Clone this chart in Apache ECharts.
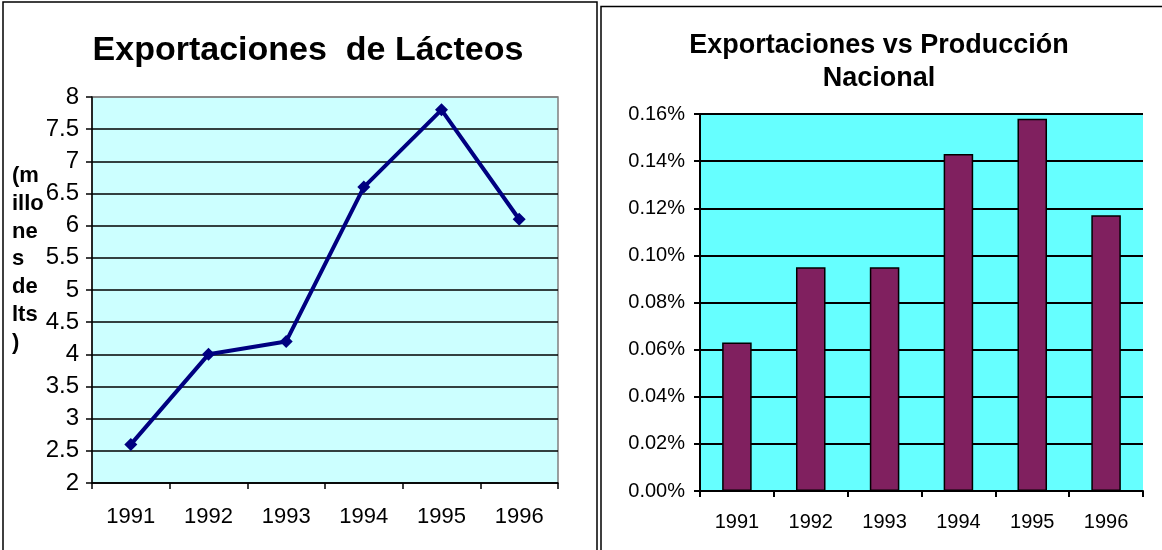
<!DOCTYPE html>
<html>
<head>
<meta charset="utf-8">
<script src="https://cdn.jsdelivr.net/npm/echarts@6/dist/echarts.min.js"></script>
<style>
html, body { margin: 0; padding: 0; background: #fff; }
#chart { width: 1162px; height: 550px; }
</style>
</head>
<body>
<div id="chart"></div>
<script>
// data
const years = ['1991', '1992', '1993', '1994', '1995', '1996'];
const exportaciones = [2.6, 4.0, 4.2, 6.6, 7.8, 6.1];          // millones de lts
const porcentajeProduccion = [0.063, 0.095, 0.095, 0.143, 0.158, 0.117]; // %
const leftTitle = 'Exportaciones  de Lácteos';
const rightTitle = 'Exportaciones vs Producción\nNacional';
const leftAxisName = '(m\nillo\nne\ns\nde\nlts\n)';

const FONT = 'Liberation Sans, Arial, sans-serif';

document.addEventListener('DOMContentLoaded', () => {
    const chart = echarts.init(document.getElementById('chart'));

    // top split line of the left plot is grey, the rest black
    const leftSplitColors = Array(12).fill('#000').concat(['#808080']);

    chart.setOption({
        animation: false,
        backgroundColor: '#fff',
        title: [
            {
                text: leftTitle, left: 308, top: 34, padding: 0, textAlign: 'center',
                textStyle: { fontFamily: FONT, fontSize: 34, fontWeight: 'bold', color: '#000', lineHeight: 34 }
            },
            {
                text: rightTitle, left: 879, top: 29, padding: 0, textAlign: 'center',
                textStyle: { fontFamily: FONT, fontSize: 27, fontWeight: 'bold', color: '#000', lineHeight: 33 }
            },
            {
                text: leftAxisName, left: 12, top: 162, padding: 0,
                textStyle: { fontFamily: FONT, fontSize: 22, fontWeight: 'bold', color: '#000', lineHeight: 27.8 }
            }
        ],
        graphic: [
            { type: 'rect', silent: true, shape: { x: 3, y: 2, width: 594, height: 600 },
              style: { fill: 'none', stroke: '#000', lineWidth: 1.5 } },
            { type: 'rect', silent: true, shape: { x: 601, y: 6.5, width: 600, height: 600 },
              style: { fill: 'none', stroke: '#000', lineWidth: 1.5 } }
        ],
        grid: [
            { left: 92, top: 97, width: 466, height: 386, show: true,
              backgroundColor: '#ccffff', borderColor: '#808080', borderWidth: 1.5 },
            { left: 700, top: 114, width: 443, height: 377, show: true,
              backgroundColor: '#66ffff', borderWidth: 0 }
        ],
        xAxis: [
            {
                type: 'category', gridIndex: 0, data: years, boundaryGap: true,
                axisLine: { lineStyle: { color: '#000', width: 1.5 } },
                axisTick: { show: true, length: 6, lineStyle: { color: '#000', width: 1.5 } },
                axisLabel: { fontFamily: FONT, fontSize: 22, color: '#000', margin: 23 }
            },
            {
                type: 'category', gridIndex: 1, data: years, boundaryGap: true,
                axisLine: { lineStyle: { color: '#000', width: 2 } },
                axisTick: { show: true, length: 6, lineStyle: { color: '#000', width: 2 } },
                axisLabel: { fontFamily: FONT, fontSize: 20, color: '#000', margin: 21 }
            }
        ],
        yAxis: [
            {
                type: 'value', gridIndex: 0, min: 2, max: 8, interval: 0.5,
                axisLine: { show: true, lineStyle: { color: '#000', width: 1.5 } },
                axisTick: { show: true, length: 6, lineStyle: { color: '#000', width: 1.5 } },
                axisLabel: { fontFamily: FONT, fontSize: 24, color: '#000', margin: 13 },
                splitLine: { show: true, lineStyle: { color: leftSplitColors, width: 1.5 } }
            },
            {
                type: 'value', gridIndex: 1, min: 0, max: 0.16, interval: 0.02,
                axisLine: { show: true, lineStyle: { color: '#000', width: 2 } },
                axisTick: { show: true, length: 6, lineStyle: { color: '#000', width: 2 } },
                axisLabel: {
                    fontFamily: FONT, fontSize: 20, color: '#000', margin: 15,
                    formatter: v => v.toFixed(2) + '%'
                },
                splitLine: { show: true, lineStyle: { color: '#000', width: 2 } }
            }
        ],
        series: [
            {
                name: 'Exportaciones', type: 'line', xAxisIndex: 0, yAxisIndex: 0,
                data: exportaciones,
                symbol: 'diamond', symbolSize: 13,
                lineStyle: { color: '#000080', width: 4 },
                itemStyle: { color: '#000080' }
            },
            {
                name: 'Exportaciones vs Producción', type: 'bar', xAxisIndex: 1, yAxisIndex: 1,
                data: porcentajeProduccion,
                barWidth: '40%',
                itemStyle: { color: '#80205f', borderColor: '#000', borderWidth: 1.5 }
            }
        ]
    });
});
</script>
</body>
</html>
